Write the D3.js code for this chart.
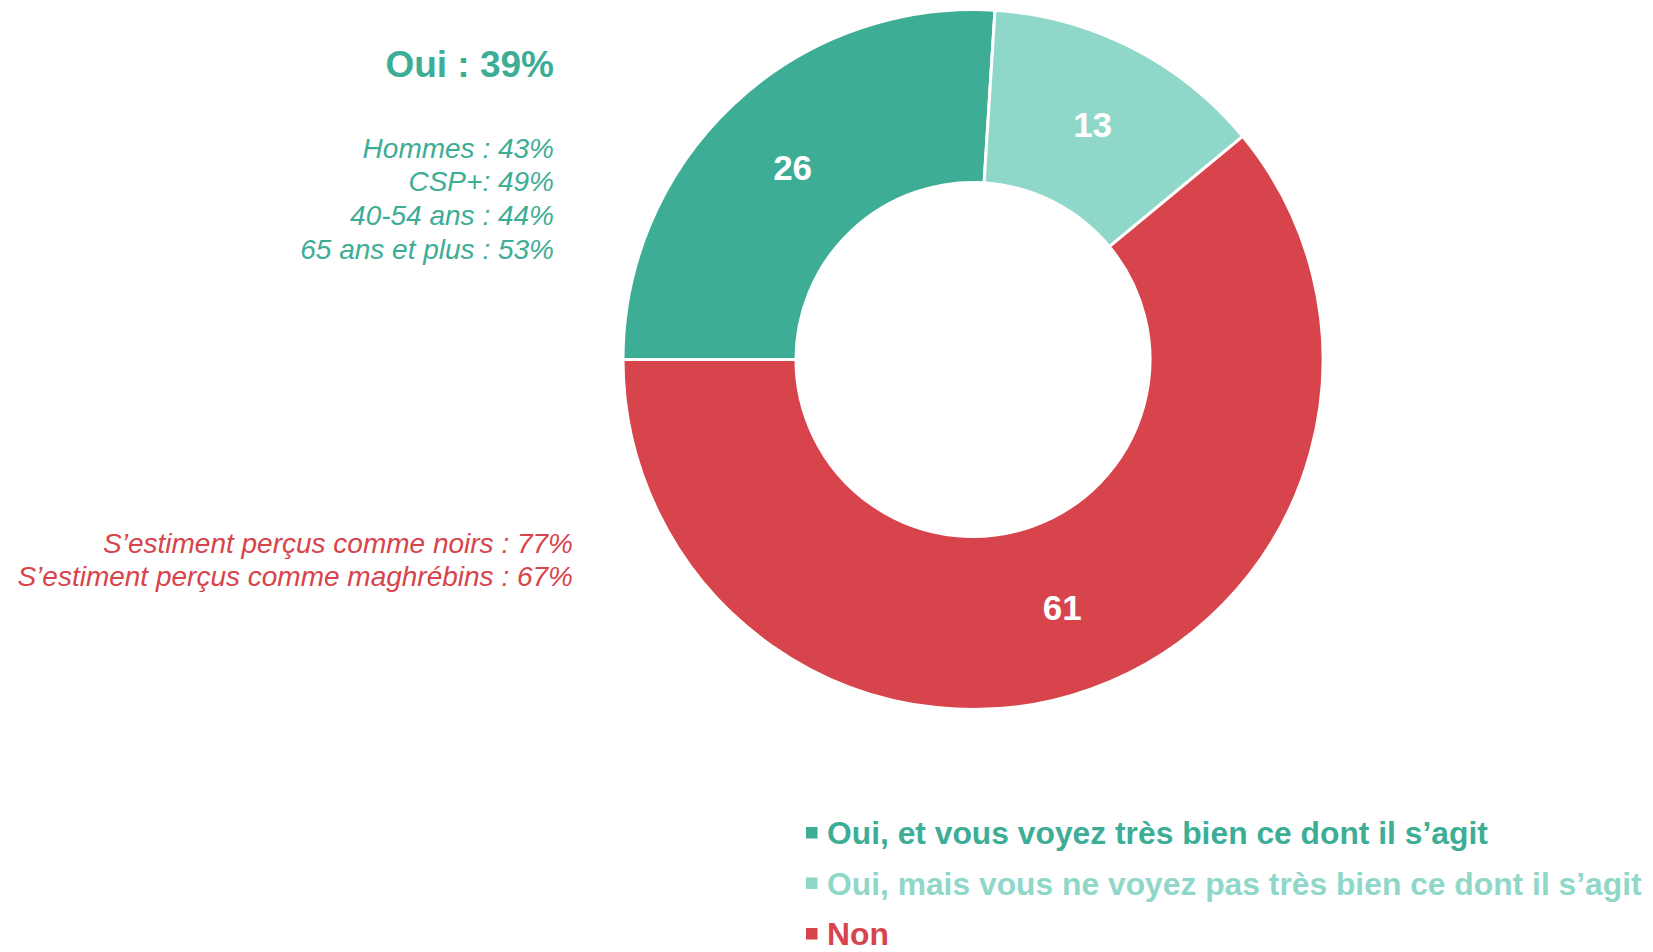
<!DOCTYPE html>
<meta charset="utf-8">
<style>
body {margin: 0; background: #fff;}
text {font-family: "Liberation Sans", Arial, sans-serif;}
</style>
<html>
<body>
<script src="https://d3js.org/d3.v7.min.js"></script>
<script>
var width = 1653,
    height = 952;

// data
var categories = ["Oui, et vous voyez très bien ce dont il s’agit",
                  "Oui, mais vous ne voyez pas très bien ce dont il s’agit",
                  "Non"];
var values = [26, 13, 61];
var colors = ["#3EAD95", "#8FD7C8", "#D7444B"];

var ouiTitle = "Oui : 39%";
var ouiDetails = ["Hommes : 43%", "CSP+: 49%", "40-54 ans : 44%", "65 ans et plus : 53%"];
var nonDetails = ["S’estiment perçus comme noirs : 77%", "S’estiment perçus comme maghrébins : 67%"];

var svg = d3.select("body").append("svg")
    .attr("width", width)
    .attr("height", height);

var cx = 973, cy = 359.5,
    outerR = 350, innerR = 177;

var pie = d3.pie()
    .sort(null)
    .startAngle(-Math.PI / 2)
    .endAngle(Math.PI * 1.5);

var arc = d3.arc()
    .innerRadius(innerR)
    .outerRadius(outerR);

var g = svg.append("g")
    .attr("transform", "translate(" + cx + "," + cy + ")");

var slices = g.selectAll("g.slice")
    .data(pie(values))
    .enter().append("g")
    .attr("class", "slice");

slices.append("path")
    .attr("d", arc)
    .attr("fill", function(d, i) { return colors[i]; })
    .attr("stroke", "#fff")
    .attr("stroke-width", 3);

slices.append("text")
    .attr("transform", function(d) { return "translate(" + arc.centroid(d) + ")"; })
    .attr("text-anchor", "middle")
    .attr("dy", "0.36em")
    .attr("fill", "#fff")
    .style("font-weight", "bold")
    .style("font-size", "35px")
    .text(function(d) { return d.data; });

// left annotations
svg.append("text")
    .attr("x", 554)
    .attr("y", 77)
    .attr("text-anchor", "end")
    .attr("fill", colors[0])
    .style("font-weight", "bold")
    .style("font-size", "37px")
    .text(ouiTitle);

svg.selectAll("text.oui")
    .data(ouiDetails)
    .enter().append("text")
    .attr("class", "oui")
    .attr("x", 554)
    .attr("y", function(d, i) { return 157.5 + i * 33.8; })
    .attr("text-anchor", "end")
    .attr("fill", colors[0])
    .style("font-style", "italic")
    .style("font-size", "28px")
    .text(function(d) { return d; });

svg.selectAll("text.non")
    .data(nonDetails)
    .enter().append("text")
    .attr("class", "non")
    .attr("x", 573)
    .attr("y", function(d, i) { return 552.5 + i * 33; })
    .attr("text-anchor", "end")
    .attr("fill", colors[2])
    .style("font-style", "italic")
    .style("font-size", "28px")
    .text(function(d) { return d; });

// legend
var legend = svg.selectAll("g.legend")
    .data(categories)
    .enter().append("g")
    .attr("class", "legend")
    .attr("transform", function(d, i) { return "translate(806," + (844 + i * 50.5) + ")"; });

legend.append("rect")
    .attr("x", 0)
    .attr("y", -17)
    .attr("width", 11.5)
    .attr("height", 11.5)
    .attr("fill", function(d, i) { return colors[i]; });

legend.append("text")
    .attr("x", 21)
    .attr("y", 0)
    .attr("fill", function(d, i) { return colors[i]; })
    .style("font-weight", "bold")
    .style("font-size", "31.8px")
    .text(function(d) { return d; });
</script>
</body>
</html>
